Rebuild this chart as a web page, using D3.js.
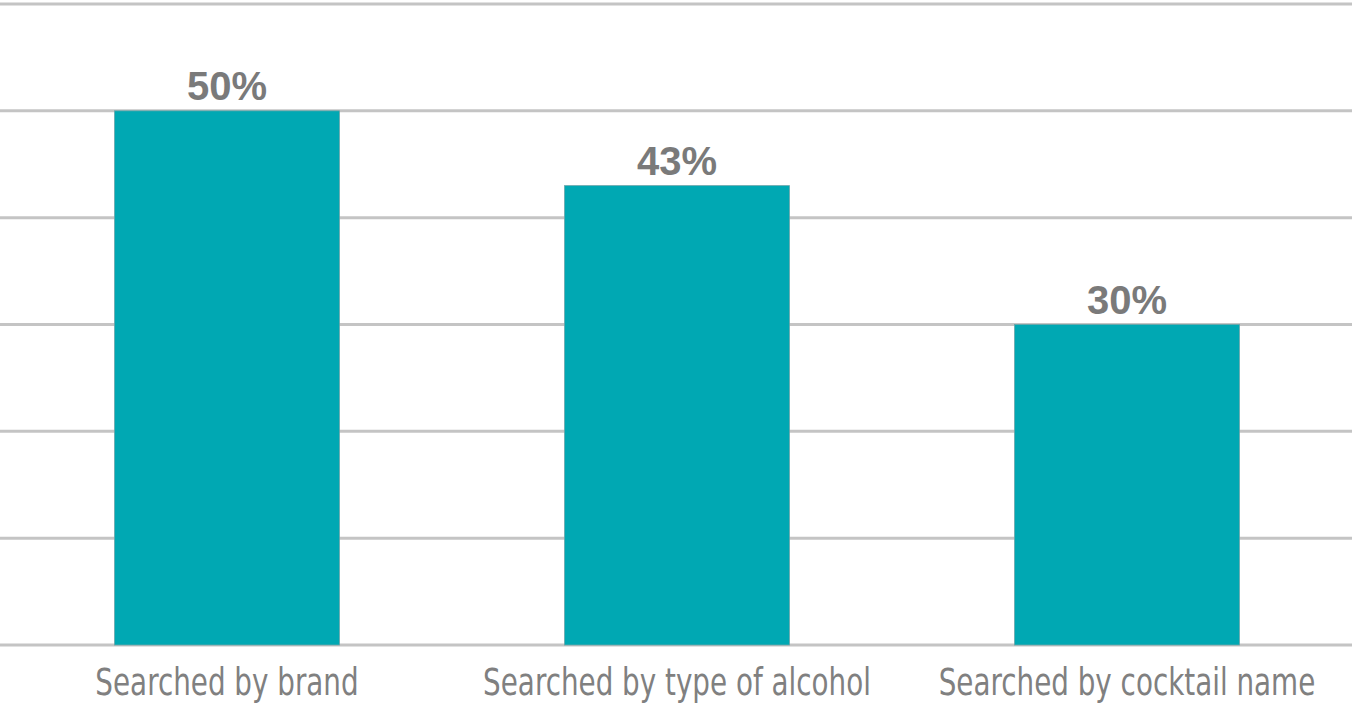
<!DOCTYPE html>
<html>
<head>
<meta charset="utf-8">
<script src="https://cdn.jsdelivr.net/npm/d3@7"></script>
<style>
  html, body { margin: 0; padding: 0; background: #ffffff; }
  svg { display: block; }
</style>
</head>
<body>
<svg id="chart" width="1352" height="707"></svg>
<script>
// Share of users by search method
const categories = ["Searched by brand", "Searched by type of alcohol", "Searched by cocktail name"];
const values = [50, 43, 30];
const gridTicks = [0, 10, 20, 30, 40, 50, 60];

const W = 1352, H = 707;
const margin = { top: 4, right: 0, bottom: 62, left: 2 };

const svg = d3.select("#chart");

const x = d3.scaleBand()
  .domain(categories)
  .range([margin.left, W - margin.right])
  .paddingInner(0.5)
  .paddingOuter(0.25);

const y = d3.scaleLinear()
  .domain([0, 60])
  .range([H - margin.bottom, margin.top]);

// Horizontal gridlines
svg.append("g")
  .selectAll("line")
  .data(gridTicks)
  .join("line")
  .attr("x1", 0)
  .attr("x2", W)
  .attr("y1", d => y(d))
  .attr("y2", d => y(d))
  .attr("stroke", "#c4c4c4")
  .attr("stroke-width", 3);

// Bars
svg.append("g")
  .selectAll("rect")
  .data(values)
  .join("rect")
  .attr("x", (d, i) => x(categories[i]))
  .attr("width", x.bandwidth())
  .attr("y", d => y(d))
  .attr("height", d => y(0) - y(d))
  .attr("fill", "#00a8b3")
  .attr("stroke", "#6aa5aa")
  .attr("stroke-width", 0.8);

// Value labels
svg.append("g")
  .selectAll("text")
  .data(values)
  .join("text")
  .attr("x", (d, i) => x(categories[i]) + x.bandwidth() / 2)
  .attr("y", d => y(d) - 11)
  .attr("text-anchor", "middle")
  .attr("font-family", "'Liberation Sans', Arial, sans-serif")
  .attr("font-weight", "bold")
  .attr("font-size", 40)
  .attr("fill", "#7a7a7a")
  .text(d => d + "%");

// Category axis labels (tall, narrow lettering)
const xAxis = d3.axisBottom(x).tickSize(0).tickPadding(0);
const gx = svg.append("g")
  .attr("transform", `translate(0,${y(0)})`)
  .call(xAxis);
gx.select(".domain").remove();
gx.selectAll("text")
  .attr("y", 50)
  .attr("dy", 0)
  .attr("transform", "scale(0.835,1)")
  .attr("font-family", "'Liberation Sans Narrow', 'DejaVu Sans Condensed', 'Roboto', sans-serif")
  .attr("font-stretch", "condensed")
  .attr("font-size", 37)
  .attr("fill", "#808080");
</script>
</body>
</html>
